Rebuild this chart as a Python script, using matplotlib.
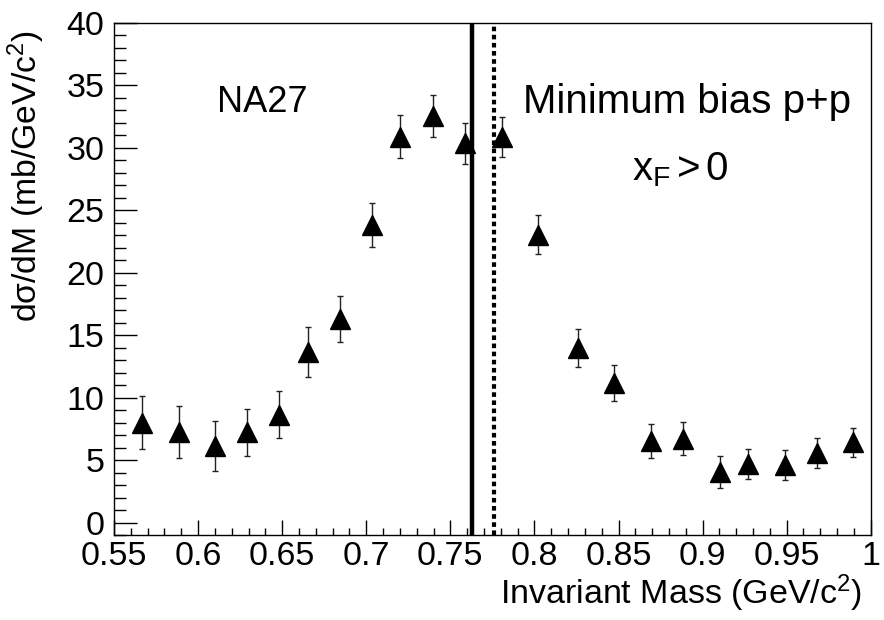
"""
Invariant mass spectrum, NA27 minimum bias p+p, redrawn in ROOT style.
"""
import numpy as np
import matplotlib
matplotlib.use('Agg')
from matplotlib import pyplot as plt
from matplotlib import ticker

plt.rcParams['font.family'] = ['Liberation Sans', 'DejaVu Sans']
plt.rcParams['mathtext.fontset'] = 'custom'
plt.rcParams['mathtext.rm'] = 'Liberation Sans'
plt.rcParams['mathtext.it'] = 'Liberation Sans:italic'
plt.rcParams['mathtext.default'] = 'regular'

# Points (GeV/c^2, mb/GeV/c^2) and their errors
mass = [0.5667, 0.5885, 0.610, 0.629, 0.6482, 0.6651, 0.6844, 0.7036,
        0.7203, 0.7397, 0.7588, 0.7806, 0.802, 0.8262, 0.8476, 0.8695,
        0.8885, 0.9104, 0.9272, 0.9488, 0.9679, 0.9895]
dsigma = [8.0, 7.28, 6.12, 7.22, 8.65, 13.66, 16.28, 23.85,
          30.9, 32.57, 30.38, 30.84, 23.06, 14.0, 11.16, 6.52,
          6.7, 4.05, 4.7, 4.61, 5.6, 6.44]
err = [2.13, 2.08, 1.99, 1.89, 1.9, 1.99, 1.83, 1.77,
       1.75, 1.69, 1.64, 1.59, 1.55, 1.52, 1.43, 1.37,
       1.32, 1.28, 1.19, 1.2, 1.2, 1.16]

solid_line_x = 0.7627
dotted_line_x = 0.7762

fig = plt.figure(figsize=(8.84, 6.2), dpi=100)
ax = fig.add_axes([0.129, 0.137, 0.856, 0.826])

ax.errorbar(mass, dsigma, yerr=err, fmt='^', color='black', ms=14,
            ecolor='#222222', elinewidth=1.0, capsize=2.5, capthick=1.0)

ax.axvline(solid_line_x, color='black', lw=3.2)
ax.axvline(dotted_line_x, color='black', lw=3.0, linestyle=(0, (1.1, 0.85)))

ax.set_xlim(0.55, 1.0)
ax.set_ylim(-1, 40)

ax.xaxis.set_major_locator(ticker.MultipleLocator(0.05))
ax.xaxis.set_minor_locator(ticker.MultipleLocator(0.01))
ax.yaxis.set_major_locator(ticker.FixedLocator(np.arange(0, 41, 5)))
ax.yaxis.set_minor_locator(ticker.MultipleLocator(1))
ax.xaxis.set_major_formatter(ticker.FuncFormatter(lambda v, p: '%g' % round(v, 3)))
ax.yaxis.set_major_formatter(ticker.FuncFormatter(lambda v, p: '%g' % v))

ax.tick_params(axis='both', which='both', direction='in', top=False, right=False,
               width=1.0, labelsize=24.5)
ax.tick_params(axis='x', which='major', length=10.8, pad=4)
ax.tick_params(axis='x', which='minor', length=5.3)
ax.tick_params(axis='y', which='major', length=16.5, pad=7)
ax.tick_params(axis='y', which='minor', length=8.4)
for sp in ax.spines.values():
    sp.set_linewidth(1.0)

ax.set_xlabel('Invariant Mass (GeV/c$^{2}$)', fontsize=24.5, ha='right')
ax.xaxis.set_label_coords(0.989, -0.074)
ax.set_ylabel('d\u03c3/dM (mb/GeV/c$^{2}$)', fontsize=24.3, ha='right')
ax.yaxis.set_label_coords(-0.088, 0.986)

ax.text(0.136, 0.826, 'NA27', transform=ax.transAxes, fontsize=26,
        ha='left', va='baseline')
ax.text(0.540, 0.824, 'Minimum bias p+p', transform=ax.transAxes, fontsize=29,
        ha='left', va='baseline')
ax.text(0.684, 0.693, 'x$_{F}\\,$>$\\,$0', transform=ax.transAxes, fontsize=29,
        ha='left', va='baseline')

fig.savefig('out.png', dpi=100)
